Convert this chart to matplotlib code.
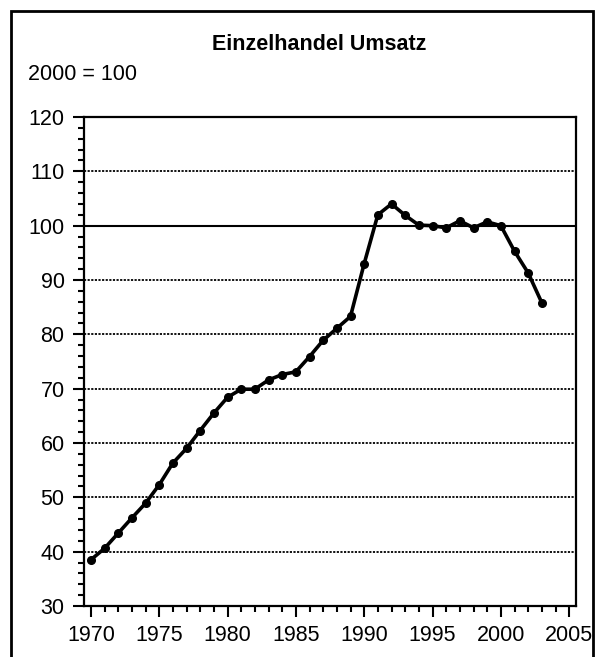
import matplotlib.pyplot as plt
from matplotlib.patches import Rectangle
from matplotlib.ticker import MultipleLocator

plt.rcParams['font.family'] = ['Liberation Sans', 'DejaVu Sans']

# Einzelhandel Umsatz, Index 2000 = 100
years = list(range(1970, 2004))
umsatz = [38.5, 40.6, 43.4, 46.2, 48.9, 52.3, 56.3, 59.0, 62.3, 65.5,
          68.4, 69.9, 69.9, 71.6, 72.6, 73.1, 75.9, 78.9, 81.1, 83.3,
          93.0, 102.0, 104.0, 101.9, 100.1, 100.0, 99.6, 100.9, 99.6, 100.7,
          100.0, 95.3, 91.3, 85.8]

fig = plt.figure(figsize=(5.98, 6.57), dpi=100)
ax = fig.add_axes([84 / 598, 1 - 606 / 657, 492 / 598, 489 / 657])

# Rahmen um die ganze Grafik
frame = Rectangle((11 / 598, -0.05), 582 / 598, 1.05 - 11 / 657,
                  transform=fig.transFigure, fill=False, lw=2, ec='black',
                  clip_on=False)
fig.patches.append(frame)

for y in range(40, 120, 10):
    if y == 100:
        ax.axhline(y, color='black', lw=1.5, zorder=1)
    else:
        ax.axhline(y, color='black', lw=1.3, ls=(0, (1.2, 0.8)), zorder=1)

ax.plot(years, umsatz, color='black', lw=2.6, marker='o', markersize=5.5, zorder=3)

ax.set_xlim(1969.5, 2005.5)
ax.set_ylim(30, 120)
ax.xaxis.set_major_locator(MultipleLocator(5))
ax.xaxis.set_minor_locator(MultipleLocator(1))
ax.yaxis.set_major_locator(MultipleLocator(10))
ax.yaxis.set_minor_locator(MultipleLocator(2))
ax.tick_params(axis='both', which='major', labelsize=15.5, width=1.5, length=8,
               direction='out', pad=6)
ax.tick_params(axis='both', which='minor', width=1.5, length=4, direction='out')
for s in ax.spines.values():
    s.set_linewidth(1.6)

fig.text(319 / 598, 1 - 45 / 657, 'Einzelhandel Umsatz', ha='center', va='center',
         fontsize=15.5, fontweight='bold')
fig.text(28 / 598, 1 - 75 / 657, '2000 = 100', ha='left', va='center', fontsize=15.5)

fig.savefig('out.png', dpi=100)
